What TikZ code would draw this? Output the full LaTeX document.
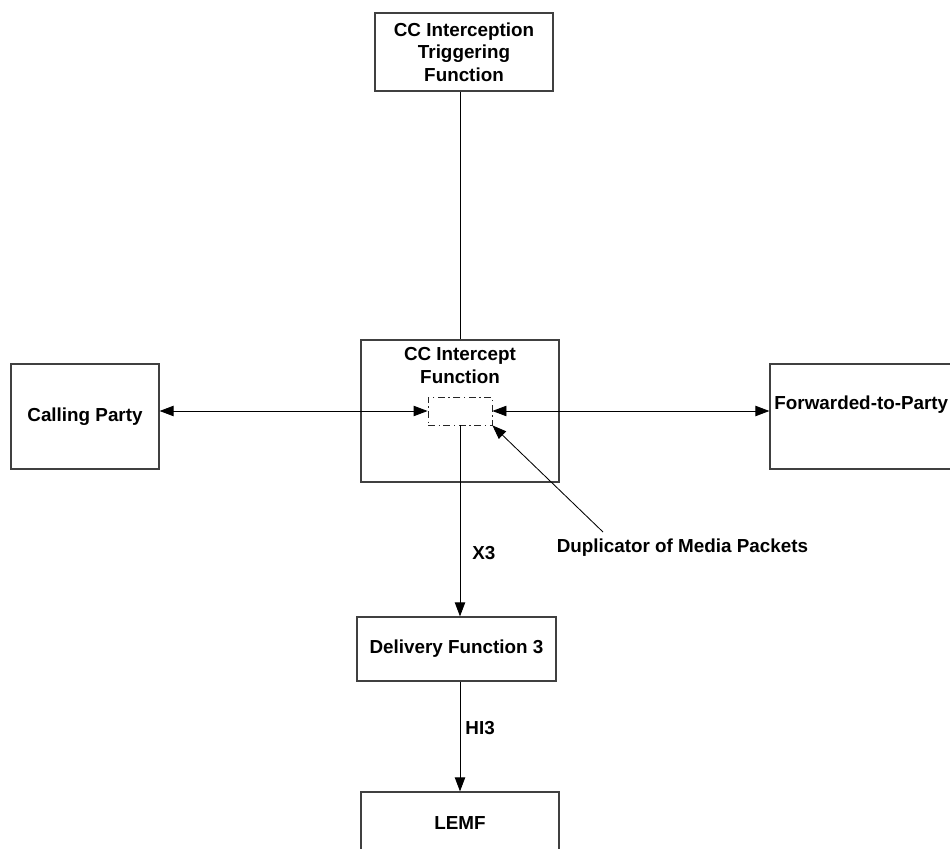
\documentclass[tikz,border=0pt]{standalone}
\usepackage{fontspec}
\setmainfont{Liberation Sans}
\usetikzlibrary{arrows.meta}

\begin{document}
\begin{tikzpicture}[
    font=\fontsize{13.4}{16}\selectfont\bfseries,
    box/.style={draw=black!75, line width=0.9pt, align=center, inner sep=0pt},
    dupbox/.style={draw=black!85, line width=0.6pt, dash pattern=on 5pt off 2.5pt on 1pt off 2.5pt,
                   minimum width=1.6cm, minimum height=0.7cm, inner sep=0pt},
    link/.style={line width=0.6pt},
    arrow/.style={link, -{Triangle[length=0.35cm, width=0.26cm]}},
    twoway/.style={link, {Triangle[length=0.35cm, width=0.26cm]}-{Triangle[length=0.35cm, width=0.26cm]}},
  ]
    \useasboundingbox (0,0) rectangle (23.75,-21.225);
    \clip (0,0) rectangle (23.75,-21.225);

    \node[box, minimum width=4.45cm, minimum height=1.95cm] (trig) at (11.6,-1.3) {CC Interception\\Triggering\\Function};
    \node[box, minimum width=4.95cm, minimum height=3.55cm,
          label={[align=center, anchor=north, inner sep=0pt, yshift=-0.2cm]north:CC Intercept\\Function}] (ccif) at (11.5,-10.275) {};
    \node[dupbox] (dup) at (11.5,-10.275) {};
    \node[box, minimum width=3.7cm, minimum height=2.625cm] (calling) at (2.125,-10.4125) {Calling Party};
    \node[box, minimum width=5cm, minimum height=2.625cm,
          label={[anchor=west, inner sep=0pt, xshift=0.12cm, yshift=0.29cm]west:Forwarded-to-Party}] (fwd) at (21.75,-10.4125) {};
    \node[box, minimum width=4.975cm, minimum height=1.6cm] (dlv) at (11.4125,-16.225) {Delivery Function 3};
    \node[box, minimum width=4.95cm, minimum height=1.55cm] (lemf) at (11.5,-20.575) {LEMF};
    \node (dupl) at (17.06,-13.7) {Duplicator of Media Packets};
    \coordinate (dupltail) at (15.075,-13.3);

    \draw[link] (trig.south -| ccif.north) -- (ccif.north);
    \draw[twoway] (calling.east |- dup.west) -- (dup.west);
    \draw[twoway] (dup.east) -- (dup.east -| fwd.west);
    \draw[arrow] (dupltail) -- (dup.south east);
    \draw[arrow] (dup.south) -- (dup.south |- dlv.north)
        node[pos=0.67, right=0.3cm, inner sep=0pt] (x3) {X3};
    \draw[arrow] (dlv.south -| lemf.north) -- (lemf.north)
        node[pos=0.42, right=0.125cm, inner sep=0pt] (hi3) {HI3};
\end{tikzpicture}
\end{document}
